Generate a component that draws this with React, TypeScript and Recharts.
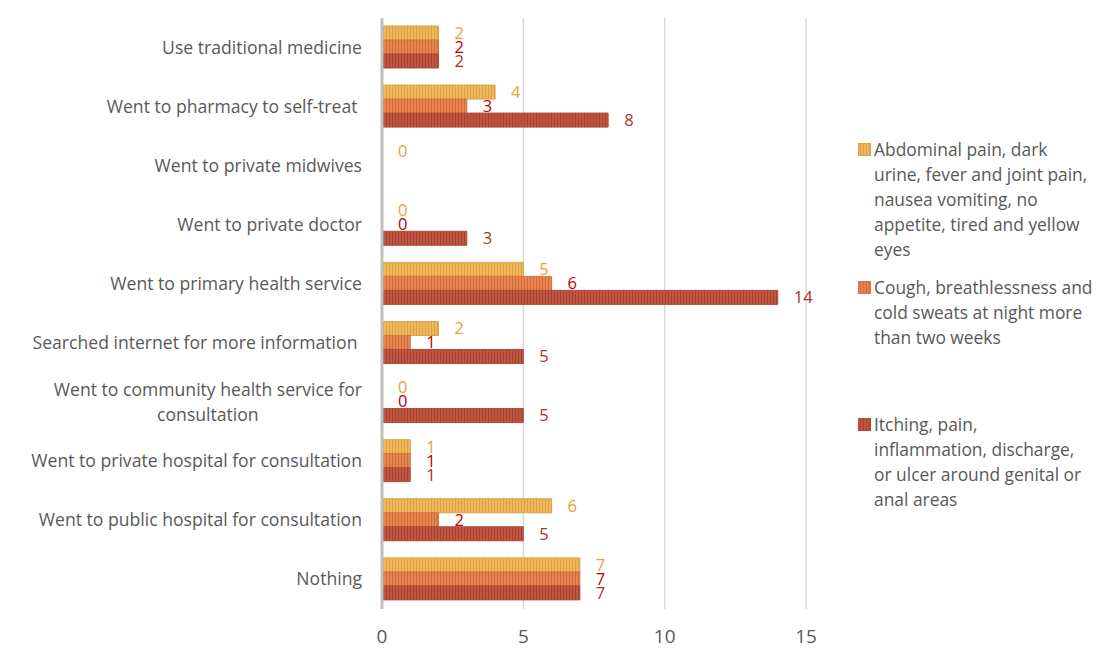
import React from "react";
import { BarChart, Bar, XAxis, YAxis, CartesianGrid, LabelList } from "recharts";

const categories = [
  "Use traditional medicine",
  "Went to pharmacy to self-treat ",
  "Went to private midwives",
  "Went to private doctor",
  "Went to primary health service",
  "Searched internet for more information ",
  "Went to community health service for consultation",
  "Went to private hospital for consultation",
  "Went to public hospital for consultation",
  "Nothing",
];

const seriesNames = [
  "Abdominal pain, dark urine, fever and joint pain, nausea vomiting, no appetite, tired and yellow eyes",
  "Cough, breathlessness and cold sweats at night more than two weeks",
  "Itching, pain, inflammation, discharge, or ulcer around genital or anal areas",
];

const abdominal: (number | null)[] = [2, 4, 0, 0, 5, 2, 0, 1, 6, 7];
const cough: (number | null)[] = [2, 3, null, 0, 6, 1, 0, 1, 2, 7];
const itching: (number | null)[] = [2, 8, null, 3, 14, 5, 5, 1, 5, 7];

const xTicks = [0, 5, 10, 15];

const data = categories.map((c, i) => ({
  name: c,
  s1: abdominal[i],
  s2: cough[i],
  s3: itching[i],
}));

const FONT = "'Open Sans', 'Liberation Sans', sans-serif";
const TEXT = "#595959";

const styles = [
  { id: "pat1", base: "#EEB85A", stripe: "#DDA244", stroke: "#D9A449", label: "#E9A035" },
  { id: "pat2", base: "#E6834E", stripe: "#D46D3A", stroke: "#D87443", label: "#C00000" },
  { id: "pat3", base: "#BF5642", stripe: "#A9432F", stroke: "#B04A38", label: "#A8362A" },
];

let ctx: CanvasRenderingContext2D | null = null;
function measure(text: string, font: string): number {
  if (!ctx) {
    const c = document.createElement("canvas");
    ctx = c.getContext("2d");
  }
  if (!ctx) return text.length * 8;
  ctx.font = font;
  return ctx.measureText(text).width;
}

const TICK_SIZE = 17.6;

const CategoryTick = (props: any) => {
  const { x, y, payload } = props;
  const label: string = payload.value;
  if (label.length > 45) {
    const words = label.split(" ");
    let first = "";
    let i = 0;
    while (i < words.length && (first + " " + words[i]).trim().length <= 40) {
      first = (first + " " + words[i]).trim();
      i++;
    }
    const second = words.slice(i).join(" ");
    const w = measure(first, `${TICK_SIZE}px 'Open Sans'`);
    const cx = x - w / 2;
    return (
      <text x={cx} y={y} textAnchor="middle" fill={TEXT} fontSize={TICK_SIZE} fontFamily={FONT}>
        <tspan x={cx} dy={-12.5 + 6}>{first}</tspan>
        <tspan x={cx} dy={25}>{second}</tspan>
      </text>
    );
  }
  return (
    <text x={x} y={y} dy={6} textAnchor="end" fill={TEXT} fontSize={TICK_SIZE} fontFamily={FONT} style={{ whiteSpace: "pre" }}>
      {label}
    </text>
  );
};

const legendTops = [137, 275, 412];
const legendWidths = [222, 222, 212];

const Legend = () => (
  <div style={{ position: "absolute", left: 0, top: 0 }}>
    {seriesNames.map((n, i) => (
      <div key={n} style={{ position: "absolute", left: 856, top: legendTops[i], width: 240 }}>
        <svg width={13} height={13} style={{ position: "absolute", left: 2, top: 6 }}>
          <rect x={0.5} y={0.5} width={12} height={12} fill={`url(#${styles[i].id})`} stroke={styles[i].stroke} strokeWidth={1} />
        </svg>
        <div
          style={{
            marginLeft: 18,
            width: legendWidths[i],
            fontFamily: FONT,
            fontSize: 17.4,
            lineHeight: "25px",
            color: TEXT,
          }}
        >
          {n}
        </div>
      </div>
    ))}
  </div>
);

const fmt = (v: any) => (v === null || v === undefined ? "" : String(v));
const minSize = (v: any) => (v === 0 ? 0.01 : 0);

export default function App() {
  return (
    <div style={{ position: "absolute", left: 0, top: 0, width: 1096, height: 648, background: "#fff" }}>
      <svg width={0} height={0} style={{ position: "absolute" }}>
        <defs>
          {styles.map((s) => (
            <pattern key={s.id} id={s.id} patternUnits="userSpaceOnUse" width={3} height={4}>
              <rect x={0} y={0} width={3} height={4} fill={s.base} />
              <rect x={2} y={0} width={1} height={4} fill={s.stripe} />
            </pattern>
          ))}
        </defs>
      </svg>
      <BarChart
        width={1096}
        height={648}
        data={data}
        layout="vertical"
        margin={{ top: 18, right: 290, bottom: 0, left: 0 }}
        barCategoryGap="13.5%"
        barGap={0}
      >
        <CartesianGrid horizontal={false} vertical={true} stroke="#D9D9D9" strokeWidth={1.5} />
        <XAxis
          type="number"
          domain={[0, 15]}
          ticks={xTicks}
          axisLine={false}
          tickLine={false}
          tickMargin={15}
          height={39}
          tick={{ fill: TEXT, fontSize: 19, fontFamily: FONT }}
          interval={0}
        />
        <YAxis
          type="category"
          dataKey="name"
          width={382}
          axisLine={{ stroke: "#BFBFBF", strokeWidth: 3 }}
          tickLine={false}
          tickSize={0}
          tickMargin={20}
          tick={<CategoryTick />}
          interval={0}
        />
        {["s1", "s2", "s3"].map((k, i) => (
          <Bar
            key={k}
            dataKey={k}
            name={seriesNames[i]}
            fill={`url(#${styles[i].id})`}
            stroke={styles[i].stroke}
            strokeWidth={1}
            minPointSize={minSize}
            isAnimationActive={false}
          >
            <LabelList
              dataKey={k}
              position="right"
              offset={16}
              formatter={fmt}
              fill={styles[i].label}
              fontSize={16.5}
              fontFamily={FONT}
            />
          </Bar>
        ))}
      </BarChart>
      <Legend />
    </div>
  );
}
